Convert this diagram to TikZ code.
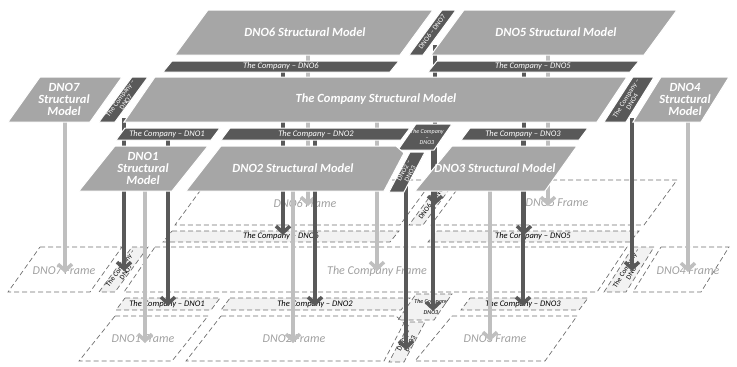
\documentclass[tikz,border=0pt]{standalone}
\usepackage{fontspec}
\setmainfont{Carlito}
\usetikzlibrary{arrows.meta}
\definecolor{smgray}{HTML}{A6A6A6}
\definecolor{dkgray}{HTML}{595959}
\definecolor{ltgray}{HTML}{BFBFBF}
\definecolor{frmfill}{HTML}{F2F2F2}
\definecolor{frmline}{HTML}{6F6F6F}
\definecolor{frmtext}{HTML}{A0A0A0}
% shapes (structural-model layer); frames are the same shapes 170 units lower
\def\rskDsix{(208,10)--(433,10)--(400,55)--(175,55)--cycle}
\def\rskSsixseven{(442,10)--(456,10)--(423,55)--(409,55)--cycle}
\def\rskDfive{(464,10)--(677,10)--(644,55)--(431,55)--cycle}
\def\rskBsix{(172,61)--(399,61)--(390,72)--(163,72)--cycle}
\def\rskBfive{(437,61)--(639,61)--(630,72)--(428,72)--cycle}
\def\rskDseven{(40,77)--(122,77)--(90,122)--(8,122)--cycle}
\def\rskSseven{(132,77)--(148,77)--(115,122)--(99,122)--cycle}
\def\rskComp{(155,77)--(627,77)--(597,122)--(124,122)--cycle}
\def\rskSfour{(633,77)--(654,77)--(626,122)--(604,122)--cycle}
\def\rskDfour{(661,77)--(729,77)--(701,122)--(633,122)--cycle}
\def\rskBone{(125,128)--(220,128)--(211,140)--(116,140)--cycle}
\def\rskBtwo{(230,128)--(410,128)--(401,140)--(221,140)--cycle}
\def\rskBlob{(416,124)--(452,124)--(434,150)--(398,150)--cycle}
\def\rskBthree{(470,128)--(588,128)--(579,140)--(461,140)--cycle}
\def\rskDone{(115,146)--(208,146)--(172,191)--(79,191)--cycle}
\def\rskDtwo{(221,146)--(396,146)--(404,153)--(384,191)--(186,191)--cycle}
\def\rskDthree{(452,146)--(577,146)--(545,191)--(415,191)--cycle}
\def\rskStwothree{(410,152)--(425,152)--(404,192)--(389,192)--cycle}
\begin{document}
\begin{tikzpicture}[x=1pt,y=-1pt,
  sm/.style={fill=smgray,draw=white,line width=1pt},
  dkshape/.style={fill=dkgray,draw=white,line width=1pt},
  frm/.style={draw=frmline,dash pattern=on 5pt off 3pt,line width=0.7pt},
  frmbar/.style={frm,fill=frmfill},
  smtxt/.style={text=white,font=\fontsize{12.5}{12}\selectfont\bfseries\itshape,inner sep=0pt,align=center},
  bartxt/.style={text=white,font=\fontsize{8.5}{9}\selectfont\itshape,inner sep=0pt},
  striptxt/.style={text=white,font=\fontsize{7}{7}\selectfont,inner sep=0pt,align=center},
  blobtxt/.style={text=white,font=\fontsize{6}{5.5}\selectfont\itshape,inner sep=0pt,align=center},
  frmtxt/.style={text=frmtext,font=\fontsize{12}{13}\selectfont\itshape,inner sep=0pt},
  fbartxt/.style={text=black,font=\fontsize{8.5}{9}\selectfont\itshape,inner sep=0pt},
  fstriptxt/.style={text=black,font=\fontsize{7}{7}\selectfont,inner sep=0pt,align=center},
  fblobtxt/.style={text=black,font=\fontsize{6}{5.5}\selectfont\itshape,inner sep=0pt,align=center},
  tip/.style={-{Straight Barb[length=6.5pt,width=14pt]}},
  ltline/.style={draw=ltgray,line width=3.5pt,tip},
  dkline/.style={draw=dkgray,line width=3.5pt,tip}]
\useasboundingbox (0,0) rectangle (737,367);
% ---------------- frames ----------------
\begin{scope}[shift={(0,170)}]
  \path[frm] \rskDsix;
  \path[frmbar] \rskSsixseven;
  \path[frm] \rskDfive;
  \path[frmbar] \rskBsix;
  \path[frmbar] \rskBfive;
  \path[frm] \rskDseven;
  \path[frmbar] \rskSseven;
  \path[frm] \rskComp;
  \path[frmbar] \rskSfour;
  \path[frm] \rskDfour;
  \path[frmbar] \rskBone;
  \path[frmbar] \rskBtwo;
  \path[frmbar] \rskBlob;
  \path[frmbar] \rskBthree;
  \path[frm] \rskDone;
  \path[frm] \rskDtwo;
  \path[frm] \rskDthree;
  \path[frmbar] \rskStwothree;
  \node[frmtxt] (fDsix) at (305,33) {DNO6 Frame};
  \node[fstriptxt,rotate=54] (fSsixseven) at (432,32) {DNO6 – DNO7};
  \node[frmtxt] (fDfive) at (557,33) {DNO5 Frame};
  \node[fbartxt,anchor=west] (fBsix) at (243,66.5) {The Company – DNO6};
  \node[fbartxt,anchor=west] (fBfive) at (495,66.5) {The Company – DNO5};
  \node[frmtxt] (fDseven) at (64,101) {DNO7 Frame};
  \node[fstriptxt,rotate=54] (fSseven) at (123,100) {The Company –\\DNO7};
  \node[frmtxt] (fComp) at (377,101) {The Company Frame};
  \node[fstriptxt,rotate=58] (fSfour) at (629,100) {The Company –\\DNO4};
  \node[frmtxt] (fDfour) at (688,101) {DNO4 Frame};
  \node[fbartxt] (fBone) at (167,134.5) {The Company – DNO1};
  \node[fbartxt] (fBtwo) at (315,134.5) {The Company – DNO2};
  \node[fblobtxt] (fBlob) at (431,137) {The Company\\–\\DNO3};
  \node[fbartxt] (fBthree) at (523,134.5) {The Company – DNO3};
  \node[frmtxt] (fDone) at (143,169) {DNO1 Frame};
  \node[frmtxt] (fDtwo) at (294,169) {DNO2 Frame};
  \node[frmtxt] (fDthree) at (495,169) {DNO3 Frame};
  \node[fstriptxt,rotate=62] (fStwothree) at (407,172) {DNO2 –\\DNO3};
\end{scope}
% ---------------- connectors ----------------
\coordinate (a6) at (308,50);  \coordinate (b6) at (308,206);
\coordinate (a5) at (548,50);  \coordinate (b5) at (548,206);
\coordinate (a7) at (65,115);  \coordinate (b7) at (65,273);
\coordinate (ac) at (377,115); \coordinate (bc) at (377,271);
\coordinate (a4) at (688,115); \coordinate (b4) at (688,272);
\coordinate (a1) at (145,185); \coordinate (b1) at (145,343);
\coordinate (a2) at (293,185); \coordinate (b2) at (293,343);
\coordinate (a3) at (490,185); \coordinate (b3) at (490,341);
\draw[ltline] (a6) -- (b6);
\draw[ltline] (a5) -- (b5);
\draw[ltline] (a7) -- (b7);
\draw[ltline] (ac) -- (bc);
\draw[ltline] (a4) -- (b4);
\draw[ltline] (a1) -- (b1);
\draw[ltline] (a2) -- (b2);
\draw[ltline] (a3) -- (b3);
\coordinate (c6) at (283,70);   \coordinate (d6) at (283,235);
\coordinate (c5) at (524,70);   \coordinate (d5) at (524,235);
\coordinate (c67) at (435,45);  \coordinate (d67) at (435,205);
\coordinate (c7) at (124,118);  \coordinate (d7) at (124,271);
\coordinate (c4) at (632,118);  \coordinate (d4) at (632,271);
\coordinate (c1) at (168,138);  \coordinate (d1) at (168,306);
\coordinate (c2) at (315,138);  \coordinate (d2) at (315,306);
\coordinate (cb) at (433,145);  \coordinate (db) at (433,311);
\coordinate (c3) at (523,138);  \coordinate (d3) at (523,306);
\coordinate (c23) at (406,185); \coordinate (d23) at (406,350);
\draw[dkline] (c6) -- (d6);
\draw[dkline] (c5) -- (d5);
\draw[dkline] (c67) -- (d67);
\draw[dkline] (c7) -- (d7);
\draw[dkline] (c4) -- (d4);
\draw[dkline] (c1) -- (d1);
\draw[dkline] (c2) -- (d2);
\draw[dkline] (cb) -- (db);
\draw[dkline] (c3) -- (d3);
\draw[dkline] (c23) -- (d23);
% ---------------- structural models ----------------
\path[sm] \rskDsix;
\node[smtxt] (tDsix) at (305,32) {DNO6 Structural Model};
\path[dkshape] \rskSsixseven;
\node[striptxt,rotate=54] (tSsixseven) at (432,32) {DNO6 – DNO7};
\path[sm] \rskDfive;
\node[smtxt] (tDfive) at (556,32) {DNO5 Structural Model};
\path[dkshape] \rskBsix;
\node[bartxt,anchor=west] (tBsix) at (243,66.5) {The Company – DNO6};
\path[dkshape] \rskBfive;
\node[bartxt,anchor=west] (tBfive) at (495,66.5) {The Company – DNO5};
\path[sm] \rskDseven;
\node[smtxt] (tDseven) at (64,99) {DNO7\\Structural\\Model};
\path[dkshape] \rskSseven;
\node[striptxt,rotate=54] (tSseven) at (123,100) {The Company –\\DNO7};
\path[sm] \rskComp;
\node[smtxt] (tComp) at (376,99) {The Company Structural Model};
\path[dkshape] \rskSfour;
\node[striptxt,rotate=58] (tSfour) at (629,100) {The Company –\\DNO4};
\path[sm] \rskDfour;
\node[smtxt] (tDfour) at (685,99) {DNO4\\Structural\\Model};
\path[dkshape] \rskBone;
\node[bartxt] (tBone) at (167,134) {The Company – DNO1};
\path[dkshape] \rskBtwo;
\node[bartxt] (tBtwo) at (316,134) {The Company – DNO2};
\path[dkshape] \rskBlob;
\node[blobtxt] (tBlob) at (427,137) {The Company\\–\\DNO3};
\path[dkshape] \rskBthree;
\node[bartxt] (tBthree) at (523,134) {The Company – DNO3};
\path[sm] \rskDone;
\node[smtxt] (tDone) at (143,168) {DNO1\\Structural\\Model};
\path[sm] \rskDtwo;
\node[smtxt] (tDtwo) at (293,168) {DNO2 Structural Model};
\path[sm] \rskDthree;
\node[smtxt] (tDthree) at (495,168) {DNO3 Structural Model};
\path[dkshape] \rskStwothree;
\node[striptxt,rotate=62] (tStwothree) at (407,172) {DNO2 –\\DNO3};
\end{tikzpicture}
\end{document}
